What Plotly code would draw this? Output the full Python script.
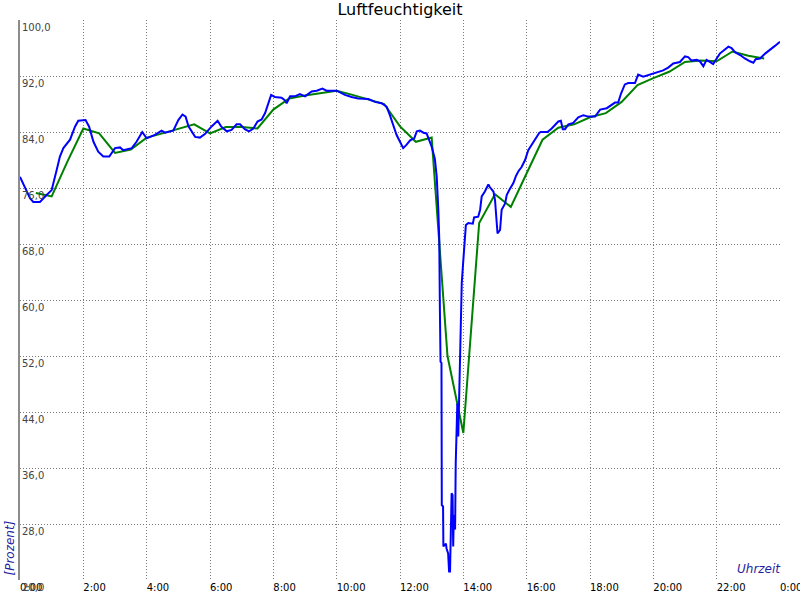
import plotly.graph_objects as go

# Blue series: measured humidity (hour of day, percent)
blue_hours = [0.0, 0.21, 0.32, 0.42, 0.63, 0.84, 1.0, 1.16, 1.26, 1.37, 1.58, 1.74, 1.84, 2.07, 2.18,
              2.32, 2.47, 2.63, 2.82, 3.0, 3.16, 3.26, 3.53, 3.68, 3.86, 4.0, 4.26, 4.47, 4.58, 4.84,
              5.0, 5.13, 5.23, 5.32, 5.53, 5.68, 5.84, 6.05, 6.24, 6.35, 6.53, 6.68, 6.84, 6.95, 7.1,
              7.23, 7.37, 7.5, 7.63, 7.74, 7.84, 7.93, 8.05, 8.26, 8.37, 8.42, 8.53, 8.68, 8.84, 9.0,
              9.21, 9.37, 9.55, 9.68, 10.0, 10.26, 10.47, 10.68, 11.0, 11.21, 11.42, 11.58, 11.68,
              11.79, 11.89, 12.0, 12.1, 12.21, 12.32, 12.45, 12.53, 12.63, 12.74, 12.84, 12.92, 13.0,
              13.1, 13.16, 13.21, 13.24, 13.26, 13.28, 13.31, 13.32, 13.36, 13.37, 13.45, 13.47, 13.52,
              13.55, 13.58, 13.6, 13.63, 13.66, 13.68, 13.7, 13.74, 13.76, 13.79, 13.81, 13.84, 13.87,
              13.89, 13.93, 13.95, 14.0, 14.05, 14.08, 14.16, 14.3, 14.34, 14.47, 14.53, 14.58, 14.68,
              14.79, 14.84, 14.95, 15.0, 15.05, 15.08, 15.16, 15.21, 15.32, 15.37, 15.45, 15.58, 15.66,
              15.74, 15.84, 15.95, 16.05, 16.21, 16.4, 16.45, 16.66, 16.79, 16.89, 17.0, 17.08, 17.14,
              17.21, 17.32, 17.47, 17.63, 17.79, 17.95, 18.16, 18.32, 18.53, 18.68, 18.79, 18.89, 18.98,
              19.1, 19.21, 19.42, 19.52, 19.68, 19.89, 20.1, 20.31, 20.47, 20.63, 20.84, 21.0, 21.1,
              21.21, 21.37, 21.47, 21.58, 21.68, 21.82, 21.89, 22.0, 22.1, 22.26, 22.37, 22.47, 22.58,
              22.74, 22.89, 23.05, 23.16, 23.23, 23.37, 23.53, 23.68, 23.84, 24.0]
blue_values = [77.6, 75.7, 74.5, 74.0, 74.0, 75.0, 75.7, 78.6, 80.5, 81.7, 82.9, 84.8, 85.6, 85.7, 84.8,
               82.6, 81.2, 80.5, 80.5, 81.7, 81.8, 81.4, 81.7, 82.6, 84.0, 83.1, 83.6, 84.2, 83.9, 84.2,
               85.7, 86.5, 86.2, 84.8, 83.3, 83.2, 83.7, 84.8, 85.6, 84.8, 84.1, 84.3, 85.1, 85.1, 84.4,
               84.1, 84.5, 85.5, 85.8, 86.7, 88.1, 89.3, 89.0, 88.9, 88.5, 88.1, 89.1, 89.1, 89.4, 89.1,
               89.8, 89.9, 90.2, 89.9, 89.9, 89.3, 89.0, 88.8, 88.7, 88.3, 88.1, 87.6, 86.4,
               85.0, 83.6, 82.6, 81.7, 82.2, 82.8, 83.1, 84.1, 84.2, 83.9, 83.8, 82.9, 81.9,
               80.2, 77.6, 72.9, 68.6, 58.6, 51.2, 51.0, 30.7, 30.5, 24.8, 25.2, 24.5, 23.8,
               21.2, 21.2, 28.6, 32.4, 32.1, 24.8, 29.3, 27.2, 36.7, 40.5, 45.2, 40.5, 46.2,
               54.0, 58.6, 62.4, 65.7, 68.6, 70.7, 71.0, 70.9, 71.8, 71.9, 72.9, 74.8, 75.5,
               76.5, 76.1, 75.5, 74.3, 71.9, 69.5, 70.0, 72.9, 73.8, 75.0, 75.7, 76.7, 77.7,
               78.4, 79.0, 80.0, 81.4, 82.6, 83.9, 84.0, 84.0, 84.5, 85.0, 85.5, 85.6, 84.4,
               84.4, 85.1, 85.3, 86.1, 86.4, 86.2, 86.2, 87.2, 87.4, 87.9, 88.2, 88.2, 89.5,
               90.8, 91.0, 91.0, 92.2, 91.9, 92.2, 92.5, 92.8, 93.2, 93.8, 94.0, 94.8, 94.7,
               94.2, 94.3, 94.1, 93.4, 94.3, 93.9, 93.7, 94.5, 95.2, 95.8, 96.2, 96.0, 95.4,
               95.0, 94.5, 94.1, 93.9, 94.4, 94.5, 95.2, 95.8, 96.3, 96.9]

# Green series: half-hourly averages
green_hours = [0.5, 1.0, 1.5, 2.0, 2.5, 3.0, 3.5, 4.0, 4.5, 5.0, 5.5, 6.0, 6.5, 7.0, 7.5, 8.0,
               8.5, 9.0, 9.5, 10.0, 10.5, 11.0, 11.5, 12.0, 12.5, 13.0, 13.5, 14.0, 14.5, 15.0,
               15.5, 16.0, 16.5, 17.0, 17.5, 18.0, 18.5, 19.0, 19.5, 20.0, 20.5, 21.0, 21.5,
               22.0, 22.5, 23.0, 23.5]
green_values = [75.3, 74.8, 79.8, 84.5, 83.8, 81.0, 81.5, 83.2, 83.8, 84.4, 85.1, 83.8, 84.7, 84.7,
                84.5, 87.2, 88.8, 89.2, 89.6, 89.9, 89.3, 88.7, 88.0, 84.8, 82.6, 83.2, 52.0,
                41.0, 71.0, 75.1, 73.3, 78.1, 82.9, 84.6, 85.1, 86.1, 86.7, 88.3, 90.7, 91.7,
                92.6, 94.0, 94.2, 94.1, 95.5, 94.9, 94.5]

x_tick_vals = [0, 2, 4, 6, 8, 10, 12, 14, 16, 18, 20, 22, 24]
x_tick_text = ["0:00", "2:00", "4:00", "6:00", "8:00", "10:00", "12:00", "14:00", "16:00",
               "18:00", "20:00", "22:00", "0:00"]
y_tick_vals = [20, 28, 36, 44, 52, 60, 68, 76, 84, 92, 100]
y_tick_text = ["20,0", "28,0", "36,0", "44,0", "52,0", "60,0", "68,0", "76,0", "84,0", "92,0", "100,0"]

fig = go.Figure()
fig.add_trace(go.Scatter(x=green_hours, y=green_values, mode="lines",
                         line=dict(color="#008000", width=2), name="Mittel"))
fig.add_trace(go.Scatter(x=blue_hours, y=blue_values, mode="lines",
                         line=dict(color="#0000FF", width=2), name="Feuchte"))

font_family = "DejaVu Sans"
fig.update_layout(
    width=800, height=600,
    margin=dict(l=20, r=20, t=20, b=20, autoexpand=False),
    paper_bgcolor="white", plot_bgcolor="white",
    showlegend=False,
    font=dict(family=font_family, size=10, color="black"),
    title=dict(text="Luftfeuchtigkeit", x=0.5, xanchor="center", y=1 - 9 / 600, yanchor="middle",
               font=dict(family=font_family, size=16, color="black")),
    xaxis=dict(range=[0, 24], tickmode="array", tickvals=x_tick_vals, ticktext=x_tick_text,
               showgrid=True, gridcolor="#7a7a7a", griddash="1px,2px", gridwidth=1, automargin=False,
               zeroline=False, showline=False, ticks="", ticklabelposition="outside right",
               ticklabeloverflow="allow", tickfont=dict(size=10)),
    yaxis=dict(range=[20, 100], tickmode="array", tickvals=y_tick_vals, ticktext=y_tick_text,
               showgrid=True, gridcolor="#7a7a7a", griddash="1px,2px", gridwidth=1, automargin=False,
               zeroline=False, showline=True, linecolor="#8c8c8c", linewidth=2, ticks="",
               ticklabelposition="inside bottom", ticklabeloverflow="allow",
               tickfont=dict(size=10)),
)

fig.add_annotation(text="<i>[Prozent]</i>", xref="paper", yref="paper", x=0, y=0,
                   xshift=-11, yshift=2, textangle=-90, showarrow=False,
                   xanchor="center", yanchor="bottom",
                   font=dict(family=font_family, size=12, color="#1f1f9f"))
fig.add_annotation(text="<i>Uhrzeit</i>", xref="paper", yref="paper", x=1, y=0,
                   xshift=3, yshift=2, showarrow=False, xanchor="right", yanchor="bottom",
                   font=dict(family=font_family, size=12, color="#1f1f9f"))

fig.write_html("out.html", config={"displayModeBar": False},
               post_script="document.body.style.margin='0';document.body.style.padding='0';")
